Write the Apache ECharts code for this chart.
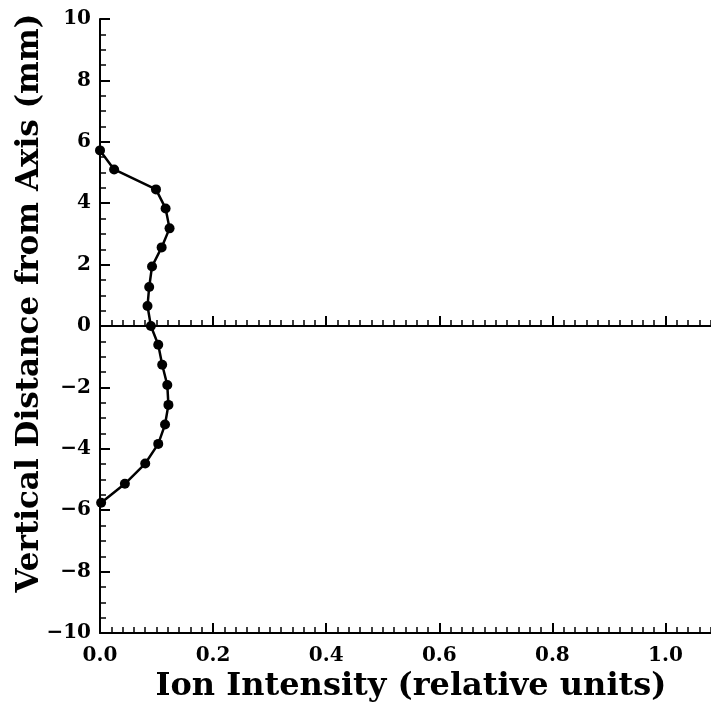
<!DOCTYPE html>
<html>
<head>
<meta charset="utf-8">
<script src="https://cdn.jsdelivr.net/npm/echarts@6/dist/echarts.min.js"></script>
<style>
  html, body { margin: 0; padding: 0; background: #fff; }
  #chart { width: 711px; height: 702px; }
</style>
</head>
<body>
<div id="chart"></div>
<script>
// ion intensity profile
const intensity = [0.0, 0.025, 0.099, 0.116, 0.123, 0.109, 0.092, 0.087, 0.084, 0.090,
  0.103, 0.110, 0.119, 0.121, 0.115, 0.103, 0.080, 0.044, 0.002]
const distance = [5.72, 5.10, 4.45, 3.83, 3.18, 2.56, 1.94, 1.27, 0.65, 0.0,
  -0.61, -1.26, -1.92, -2.57, -3.21, -3.84, -4.48, -5.14, -5.76]
const xTicks = [0, 0.2, 0.4, 0.6, 0.8, 1.0]
const yTicks = [-10, -8, -6, -4, -2, 0, 2, 4, 6, 8, 10]

const font = 'DejaVu Serif'
const chartDom = document.getElementById('chart')
const chart = echarts.init(chartDom)

const points = intensity.map((v, i) => [v, distance[i]])

// 共用刻度样式
const tickStyle = {
  axisLine: { show: true, onZero: false, lineStyle: { color: '#000', width: 2 } },
  axisTick: { show: true, inside: true, length: 10, lineStyle: { color: '#000', width: 2 } },
  minorTick: { show: true, splitNumber: 10, length: 6, lineStyle: { color: '#000', width: 1.5 } },
  splitLine: { show: false },
  minorSplitLine: { show: false }
}

const gridH = 614

const options = {
  animation: false,
  backgroundColor: '#fff',
  grid: { left: 100, top: 19, width: 622, height: gridH, outerBoundsMode: 'none', containLabel: false },
  xAxis: [
    {
      type: 'value', min: 0, max: 1.1, interval: 0.2, position: 'bottom',
      ...tickStyle,
      axisLabel: {
        color: '#000', fontFamily: font, fontWeight: 'bold', fontSize: 20, margin: 13,
        showMaxLabel: false,
        formatter: v => xTicks.includes(Math.round(v * 10) / 10) ? v.toFixed(1) : ''
      },
      name: 'Ion Intensity (relative units)',
      nameLocation: 'middle', nameGap: 36,
      nameTextStyle: { color: '#000', fontFamily: font, fontWeight: 'bold', fontSize: 32 }
    },
    {
      // line through zero
      type: 'value', min: 0, max: 1.1, interval: 0.2, position: 'bottom',
      offset: -gridH / 2,
      ...tickStyle,
      axisLabel: { show: false }
    },
    {
      type: 'value', min: 0, max: 1.1, position: 'top',
      axisLine: { show: true, lineStyle: { color: '#000', width: 2 } },
      axisTick: { show: false }, axisLabel: { show: false }, splitLine: { show: false }
    }
  ],
  yAxis: {
    type: 'value', min: -10, max: 10, interval: 2,
    ...tickStyle,
    minorTick: { show: true, splitNumber: 4, length: 6, lineStyle: { color: '#000', width: 1.5 } },
    axisLabel: {
      color: '#000', fontFamily: font, fontWeight: 'bold', fontSize: 20, margin: 9,
      formatter: v => yTicks.includes(v) ? String(v).replace('-', '\u2212') : ''
    },
    name: 'Vertical Distance from Axis (mm)',
    nameLocation: 'middle', nameGap: 55, nameMoveOverlap: false,
    nameTextStyle: { color: '#000', fontFamily: font, fontWeight: 'bold', fontSize: 31, padding: [0, 0, 0, 46] }
  },
  series: [{
    type: 'line',
    xAxisIndex: 0,
    data: points,
    symbol: 'circle',
    symbolSize: 10,
    itemStyle: { color: '#000' },
    lineStyle: { color: '#000', width: 2.5 }
  }]
}

chart.setOption(options, true)
</script>
</body>
</html>
